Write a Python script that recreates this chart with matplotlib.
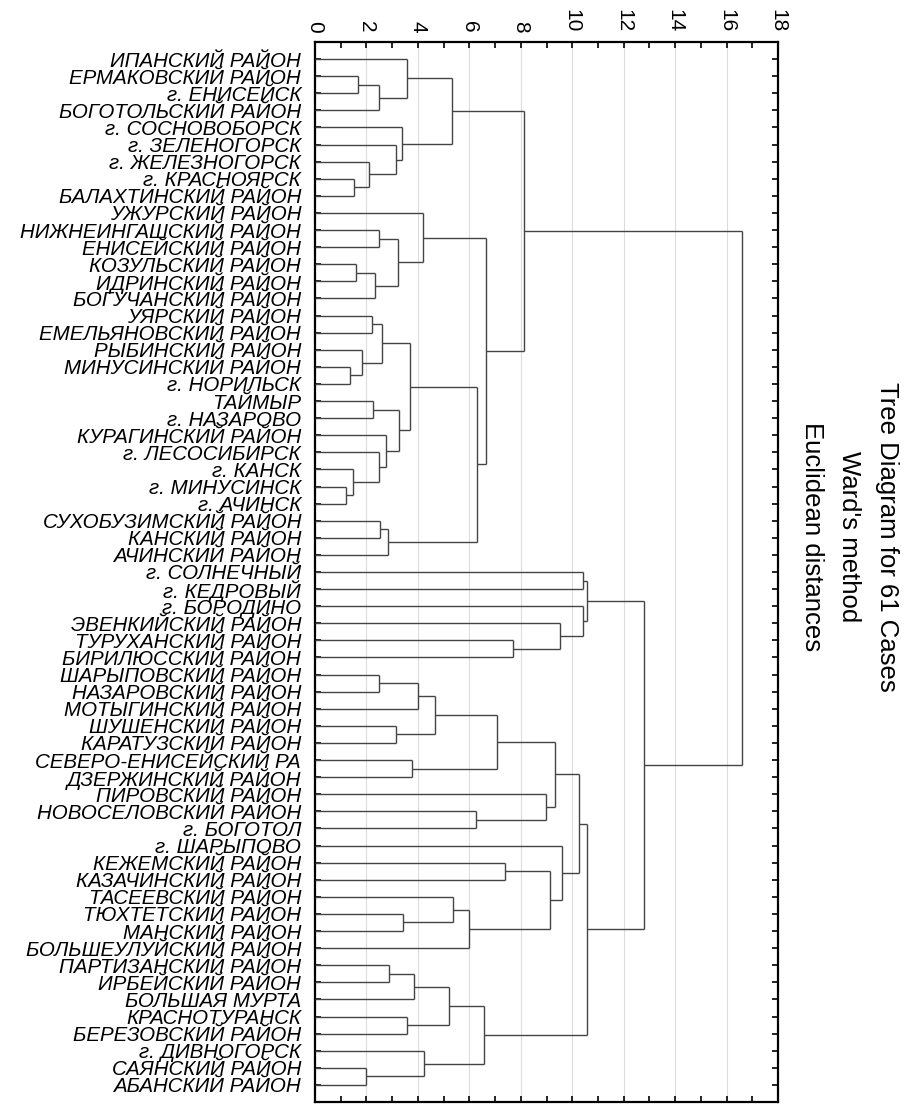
import matplotlib
matplotlib.use("Agg")
import matplotlib.pyplot as plt
from matplotlib.ticker import MultipleLocator

LABELS = [
    "ИПАНСКИЙ РАЙОН", "ЕРМАКОВСКИЙ РАЙОН", "г. ЕНИСЕЙСК", "БОГОТОЛЬСКИЙ РАЙОН",
    "г. СОСНОВОБОРСК", "г. ЗЕЛЕНОГОРСК", "г. ЖЕЛЕЗНОГОРСК", "г. КРАСНОЯРСК",
    "БАЛАХТИНСКИЙ РАЙОН", "УЖУРСКИЙ РАЙОН", "НИЖНЕИНГАШСКИЙ РАЙОН", "ЕНИСЕЙСКИЙ РАЙОН",
    "КОЗУЛЬСКИЙ РАЙОН", "ИДРИНСКИЙ РАЙОН", "БОГУЧАНСКИЙ РАЙОН", "УЯРСКИЙ РАЙОН",
    "ЕМЕЛЬЯНОВСКИЙ РАЙОН", "РЫБИНСКИЙ РАЙОН", "МИНУСИНСКИЙ РАЙОН", "г. НОРИЛЬСК",
    "ТАЙМЫР", "г. НАЗАРОВО", "КУРАГИНСКИЙ РАЙОН", "г. ЛЕСОСИБИРСК",
    "г. КАНСК", "г. МИНУСИНСК", "г. АЧИНСК", "СУХОБУЗИМСКИЙ РАЙОН",
    "КАНСКИЙ РАЙОН", "АЧИНСКИЙ РАЙОН", "г. СОЛНЕЧНЫЙ", "г. КЕДРОВЫЙ",
    "г. БОРОДИНО", "ЭВЕНКИЙСКИЙ РАЙОН", "ТУРУХАНСКИЙ РАЙОН", "БИРИЛЮССКИЙ РАЙОН",
    "ШАРЫПОВСКИЙ РАЙОН", "НАЗАРОВСКИЙ РАЙОН", "МОТЫГИНСКИЙ РАЙОН", "ШУШЕНСКИЙ РАЙОН",
    "КАРАТУЗСКИЙ РАЙОН", "СЕВЕРО-ЕНИСЕЙСКИЙ РА", "ДЗЕРЖИНСКИЙ РАЙОН", "ПИРОВСКИЙ РАЙОН",
    "НОВОСЕЛОВСКИЙ РАЙОН", "г. БОГОТОЛ", "г. ШАРЫПОВО", "КЕЖЕМСКИЙ РАЙОН",
    "КАЗАЧИНСКИЙ РАЙОН", "ТАСЕЕВСКИЙ РАЙОН", "ТЮХТЕТСКИЙ РАЙОН", "МАНСКИЙ РАЙОН",
    "БОЛЬШЕУЛУЙСКИЙ РАЙОН", "ПАРТИЗАНСКИЙ РАЙОН", "ИРБЕЙСКИЙ РАЙОН", "БОЛЬШАЯ МУРТА",
    "КРАСНОТУРАНСК", "БЕРЕЗОВСКИЙ РАЙОН", "г. ДИВНОГОРСК", "САЯНСКИЙ РАЙОН",
    "АБАНСКИЙ РАЙОН",
]

# linkage: cluster id 61 + k is formed by joining MERGE_A[k] and MERGE_B[k] at MERGE_H[k]
MERGE_A = [1, 61, 0, 7, 6, 5, 4, 63, 10, 12, 70, 69, 9, 15, 18, 17, 74, 20, 25, 24,
           23, 22, 78, 77, 27, 85, 84, 73, 68, 30, 34, 33, 32, 90, 36, 95, 39, 96, 41, 98,
           44, 43, 100, 47, 50, 49, 106, 104, 46, 103, 53, 111, 56, 112, 59, 58, 114, 110, 94, 89]
MERGE_B = [2, 3, 62, 8, 64, 65, 66, 67, 11, 13, 14, 71, 72, 16, 19, 75, 76, 21, 26, 79,
           80, 81, 82, 83, 28, 29, 86, 87, 88, 31, 35, 91, 92, 93, 37, 38, 40, 97, 42, 99,
           45, 101, 102, 48, 51, 105, 52, 107, 108, 109, 54, 55, 57, 113, 60, 115, 116, 117, 118, 119]
MERGE_H = [1.69, 2.47, 3.57, 1.52, 2.08, 3.16, 3.39, 5.32, 2.47, 1.60, 2.32, 3.24, 4.20,
           2.20, 1.38, 1.84, 2.59, 2.27, 1.20, 1.49, 2.47, 2.75, 3.28, 3.68, 2.51, 2.84,
           6.29, 6.66, 8.14, 10.43, 7.69, 9.53, 10.40, 10.57, 2.50, 4.02, 3.15, 4.68, 3.79,
           7.06, 6.24, 8.98, 9.34, 7.39, 3.43, 5.37, 6.00, 9.14, 9.61, 10.27, 2.89, 3.83,
           3.59, 5.21, 2.00, 4.22, 6.56, 10.57, 12.78, 16.61]

X_TICK_LABELS = [0, 2, 4, 6, 8, 10, 12, 14, 16, 18]
TITLE_LINES = ["Tree Diagram for 61 Cases", "Ward's method", "Euclidean distances"]

W, H = 913, 1108
fig = plt.figure(figsize=(W / 100, H / 100), dpi=100)
ax = fig.add_axes([315 / W, 1 - 1102 / H, (778 - 315) / W, (1102 - 42) / H])

n = len(LABELS)
pos = {i: float(i) for i in range(n)}
hgt = {i: 0.0 for i in range(n)}
line_kw = dict(color="#444444", lw=1.0, solid_capstyle="butt", zorder=3)
for k, (a, b, h) in enumerate(zip(MERGE_A, MERGE_B, MERGE_H)):
    ax.plot([hgt[a], h], [pos[a], pos[a]], **line_kw)
    ax.plot([hgt[b], h], [pos[b], pos[b]], **line_kw)
    ax.plot([h, h], [pos[a], pos[b]], **line_kw)
    pos[n + k] = (pos[a] + pos[b]) / 2
    hgt[n + k] = h

ax.set_xlim(0, 18)
ax.set_ylim(61, -1)

for g in X_TICK_LABELS[1:-1]:
    ax.axvline(g, color="#dcdcdc", lw=0.8, zorder=1)

ax.xaxis.tick_top()
ax.set_xticks(X_TICK_LABELS)
ax.xaxis.set_minor_locator(MultipleLocator(1))
ax.set_xticklabels([str(v) for v in X_TICK_LABELS], rotation=-90,
                   fontfamily="Liberation Sans", fontsize=15, va="bottom", ha="center")
ax.tick_params(axis="x", which="both", direction="in", length=4, width=1.2,
               top=True, bottom=True, pad=7)

ax.set_yticks(range(n))
ax.set_yticklabels(LABELS, fontfamily="Liberation Sans", fontstyle="italic", fontsize=14.8)
ax.tick_params(axis="y", which="both", direction="in", length=4, width=1.2,
               left=True, right=True, pad=10)

for s in ax.spines.values():
    s.set_linewidth(1.6)
    s.set_color("black")

title_x = [887, 849, 812]
for tx, t in zip(title_x, TITLE_LINES):
    fig.text(tx / W, 1 - 537 / H, t, rotation=-90, ha="center", va="center",
             fontfamily="Liberation Sans", fontsize=18.5)

fig.savefig("out.png", dpi=100)
